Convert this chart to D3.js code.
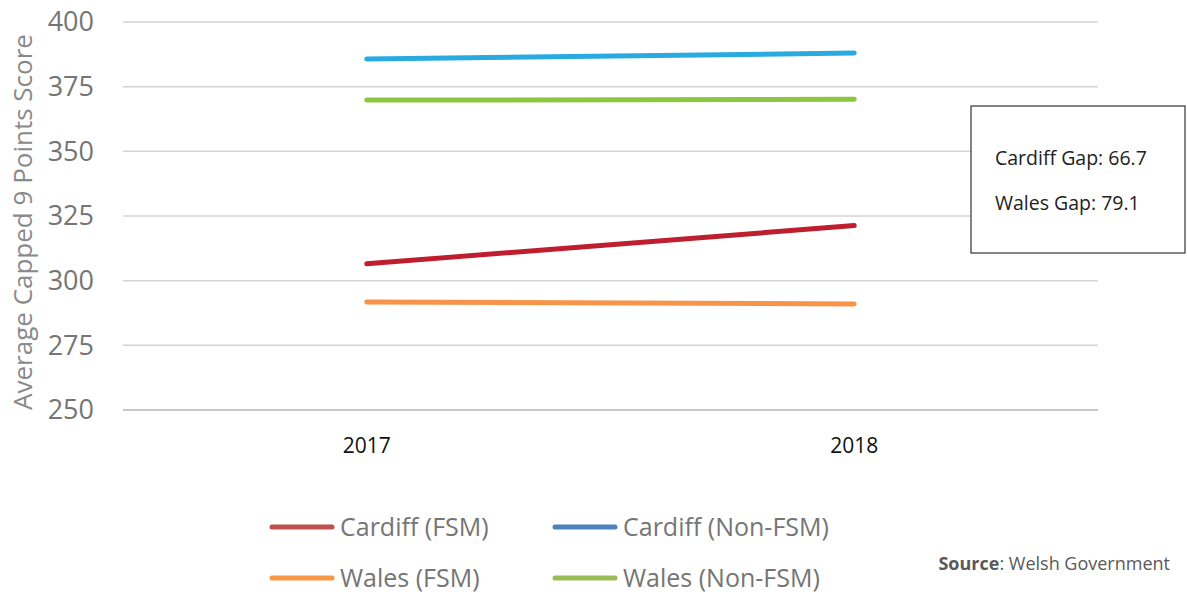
<!DOCTYPE html>
<html>
<head>
<meta charset="utf-8">
<script src="https://cdn.jsdelivr.net/npm/d3@7"></script>
<style>
  body { margin: 0; background: #fff; }
  svg { display: block; font-family: "Open Sans", sans-serif; }
</style>
</head>
<body>
<svg id="chart" width="1187" height="594"></svg>
<script>
const years = ["2017", "2018"];
const seriesNames = ["Cardiff (FSM)", "Cardiff (Non-FSM)", "Wales (FSM)", "Wales (Non-FSM)"];
const cardiffFsm = [306.5, 321.3];
const cardiffNonFsm = [385.7, 388.0];
const walesFsm = [291.8, 291.0];
const walesNonFsm = [369.8, 370.1];
const yTicks = [250, 275, 300, 325, 350, 375, 400];
const gapNotes = ["Cardiff Gap: 66.7", "Wales Gap: 79.1"];

const LINE_COLORS = ["#be1e2d", "#29abe2", "#f7944a", "#8dc63f"];
const LEGEND_COLORS = ["#c0504d", "#4f81bd", "#f79646", "#9bbb59"];

const svg = d3.select("#chart");
const MARGIN = { top: 22, right: 89, bottom: 184, left: 123 };
const width = 1187, height = 594;
const innerW = width - MARGIN.left - MARGIN.right;
const innerH = height - MARGIN.top - MARGIN.bottom;

const x = d3.scalePoint().domain(years).range([0, innerW]).padding(0.5);
const y = d3.scaleLinear().domain([250, 400]).range([innerH, 0]);

const g = svg.append("g").attr("transform", `translate(${MARGIN.left},${MARGIN.top})`);

// gridlines
g.append("g")
  .selectAll("line")
  .data(yTicks)
  .join("line")
  .attr("x1", 0)
  .attr("x2", innerW)
  .attr("y1", d => y(d))
  .attr("y2", d => y(d))
  .attr("stroke", d => d === 250 ? "#c8c8c8" : "#d4d4d4")
  .attr("stroke-width", d => d === 250 ? 2 : 1.5);

// y tick labels
g.append("g")
  .selectAll("text")
  .data(yTicks)
  .join("text")
  .attr("x", -29)
  .attr("y", d => y(d))
  .attr("dy", "0.35em")
  .attr("text-anchor", "end")
  .attr("fill", "#757575")
  .attr("font-size", 27)
  .text(d => d);

// x tick labels
g.append("g")
  .selectAll("text")
  .data(years)
  .join("text")
  .attr("x", d => x(d))
  .attr("y", innerH + 43)
  .attr("text-anchor", "middle")
  .attr("fill", "#111")
  .attr("font-size", 21)
  .text(d => d);

// y axis title
svg.append("text")
  .attr("transform", `translate(32,${MARGIN.top + innerH / 2 + 6}) rotate(-90)`)
  .attr("text-anchor", "middle")
  .attr("fill", "#8a8a8a")
  .attr("font-size", 26)
  .text("Average Capped 9 Points Score");

// lines
const series = [cardiffFsm, cardiffNonFsm, walesFsm, walesNonFsm];
const line = d3.line().x((d, i) => x(years[i])).y(d => y(d));

g.append("g")
  .selectAll("path")
  .data(series)
  .join("path")
  .attr("d", d => line(d))
  .attr("fill", "none")
  .attr("stroke", (d, i) => LINE_COLORS[i])
  .attr("stroke-width", 5)
  .attr("stroke-linecap", "round");

// annotation box
const box = svg.append("g").attr("transform", "translate(971,106)");
box.append("rect")
  .attr("width", 214)
  .attr("height", 147)
  .attr("fill", "#fff")
  .attr("stroke", "#333")
  .attr("stroke-width", 1.2);
box.selectAll("text")
  .data(gapNotes)
  .join("text")
  .attr("x", 24)
  .attr("y", (d, i) => 59 + i * 45)
  .attr("fill", "#222")
  .attr("font-size", 19.5)
  .text(d => d);

// legend
const legend = svg.append("g");
const legendItems = legend.selectAll("g")
  .data(seriesNames)
  .join("g")
  .attr("transform", (d, i) => `translate(${272 + (i % 2) * 283},${527 + Math.floor(i / 2) * 51})`);
legendItems.append("line")
  .attr("x1", 0)
  .attr("x2", 60)
  .attr("stroke", (d, i) => LEGEND_COLORS[i])
  .attr("stroke-width", 5)
  .attr("stroke-linecap", "round");
legendItems.append("text")
  .attr("x", 68)
  .attr("dy", "0.35em")
  .attr("fill", "#757575")
  .attr("font-size", 25)
  .text(d => d);

// source
const src = svg.append("text")
  .attr("x", 1170)
  .attr("y", 570)
  .attr("text-anchor", "end")
  .attr("fill", "#595959")
  .attr("font-size", 18);
src.append("tspan").attr("font-weight", 700).text("Source");
src.append("tspan").text(": Welsh Government");
</script>
</body>
</html>
